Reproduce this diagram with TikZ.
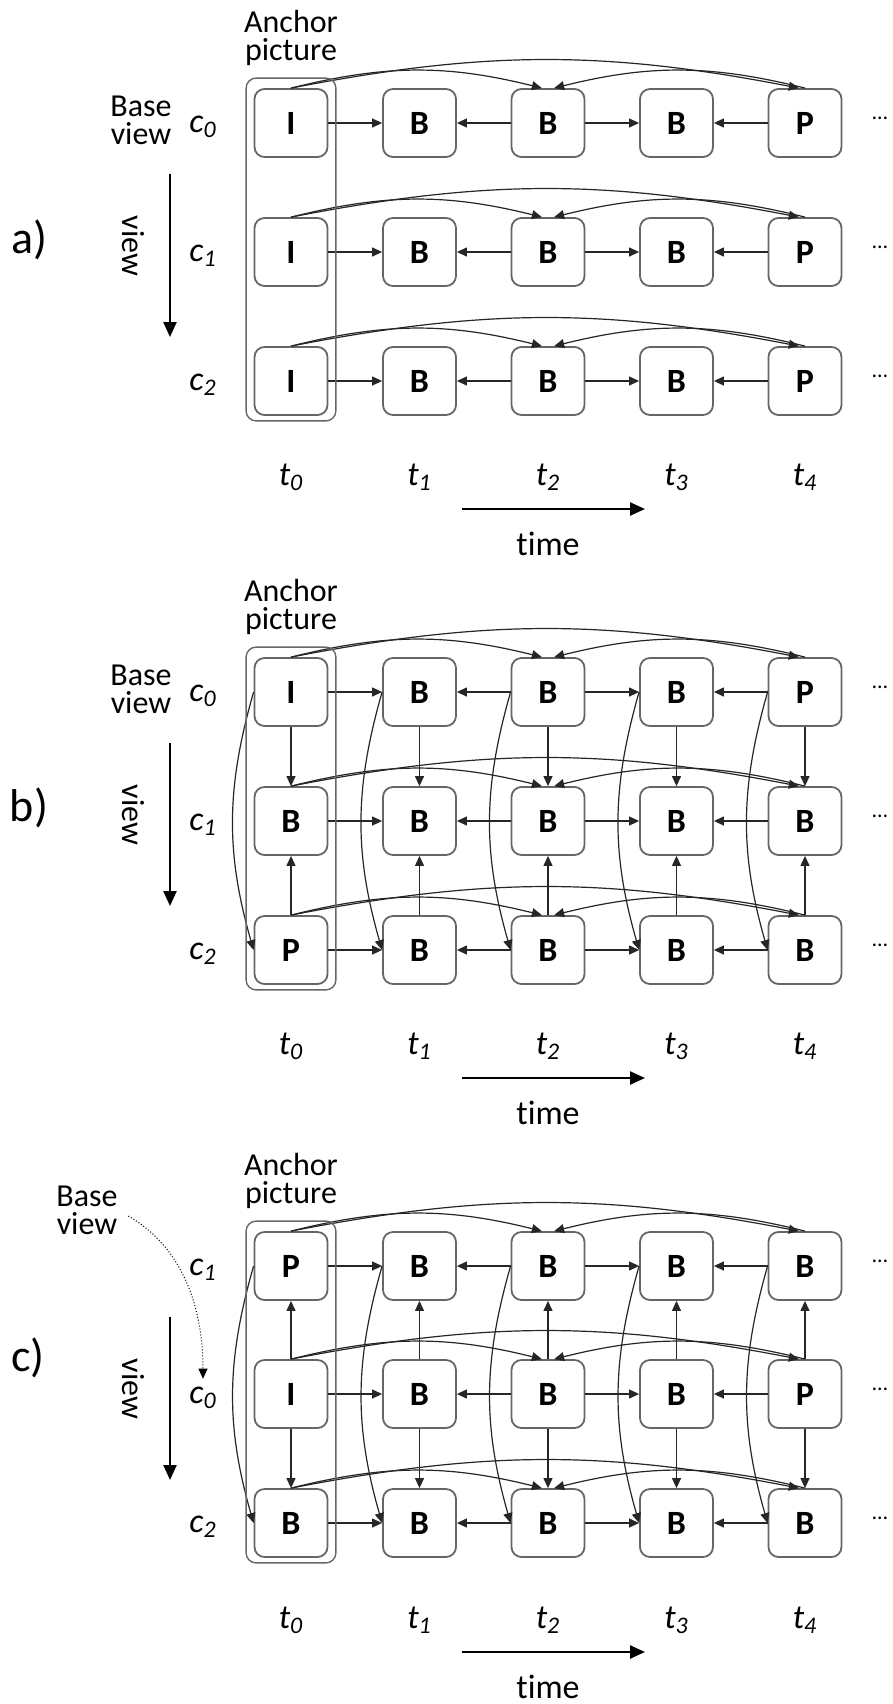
\documentclass[tikz,border=0pt]{standalone}
\usepackage{fontspec}
\setmainfont{Carlito}[Ligatures={TeX,NoCommon}]
\usetikzlibrary{positioning, arrows.meta, fit, calc}
\tikzset{
    frame/.style={rectangle, rounded corners=5pt, draw=black!60, line width=0.9pt, minimum width=36.5pt, minimum height=34pt, inner sep=0pt, font=\bfseries\fontsize{17}{17}\selectfont},
    anchorbox/.style={rectangle, rounded corners=5pt, draw=black!60, line width=0.7pt, inner sep=3.75pt, yshift=1.25pt},
    pred/.style={-{Triangle[length=5pt, width=4.5pt]}, line width=0.6pt, black!85},
    axis/.style={-{Triangle[length=7.5pt, width=6.5pt]}, line width=1.2pt},
    note/.style={align=center, inner sep=0pt, font=\fontsize{16}{14}\selectfont},
    camlab/.style={inner sep=0pt, font=\itshape\fontsize{17}{17}\selectfont},
    panel/.style={inner sep=0pt, font=\fontsize{23}{23}\selectfont},
    more/.style={inner sep=0pt, font=\fontsize{11}{11}\selectfont},
    baseref/.style={-{Triangle[length=5pt, width=4.5pt]}, line width=0.5pt, densely dotted}
}

\begin{document}
\begin{tikzpicture}[x=0.5pt, y=-0.5pt]
\useasboundingbox (0,0) rectangle (893,1704);

% rows of pictures: panel / row / height / view index / picture types
\foreach \p/\rw/\y/\cam/\kinds in {
        a/0/123/0/{I,B,B,B,P}, a/1/252/1/{I,B,B,B,P}, a/2/381/2/{I,B,B,B,P},
        b/0/692/0/{I,B,B,B,P}, b/1/821/1/{B,B,B,B,B}, b/2/950/2/{P,B,B,B,B},
        c/0/1266/1/{P,B,B,B,B}, c/1/1394/0/{I,B,B,B,P}, c/2/1523/2/{B,B,B,B,B}} {
    \node[camlab] (\p\rw-cam) at (203,\y+4) {c\textsubscript{\cam}};
    \foreach \kind [count=\col from 0] in \kinds
        \node[frame] (\p\rw\col) at (291+128.5*\col,\y) {\kind};
    \node[more] (\p\rw-more) at (880,\y-5) {\dots};
    % temporal prediction inside the row
    \draw[pred] (\p\rw0) -- (\p\rw1);
    \draw[pred] (\p\rw2) -- (\p\rw1);
    \draw[pred] (\p\rw2) -- (\p\rw3);
    \draw[pred] (\p\rw4) -- (\p\rw3);
    \draw[pred] (\p\rw0.north) to[bend left=14] (\p\rw2.100);
    \draw[pred] (\p\rw0.north) to[bend left=11] (\p\rw4.100);
    \draw[pred] (\p\rw4.north) to[bend right=14] (\p\rw2.80);
}

% inter-view prediction, panel b
\foreach \col in {0,...,4} {
    \draw[pred] (b0\col) -- (b1\col);
    \draw[pred] (b2\col) -- (b1\col);
    \draw[pred] (b0\col.west) to[bend right=16] (b2\col.west);
}
% inter-view prediction, panel c (base view in the middle)
\foreach \col in {0,...,4} {
    \draw[pred] (c1\col) -- (c0\col);
    \draw[pred] (c1\col) -- (c2\col);
    \draw[pred] (c0\col.west) to[bend right=16] (c2\col.west);
}

% anchor pictures, axes and labels
\foreach \p/\y in {a/123, b/692, c/1266} {
    \node[anchorbox, fit=(\p00)(\p20)] (\p-anchor) {};
    \node[note] (\p-anchortext) at (291,\y-85) {Anchor\\picture};
    \coordinate (\p-v1) at (170,\y+51);
    \coordinate (\p-v2) at (170,\y+214);
    \draw[axis] (\p-v1) -- (\p-v2);
    \node[note, rotate=-90] (\p-view) at (133,\y+123) {view};
    \foreach \col in {0,...,4}
        \node[camlab] (\p-t\col) at (291+128.5*\col,\y+354) {t\textsubscript{\col}};
    \coordinate (\p-s1) at (462,\y+386);
    \coordinate (\p-s2) at (645,\y+386);
    \draw[axis] (\p-s1) -- (\p-s2);
    \node[note, font=\fontsize{17}{17}\selectfont] (\p-time) at (548,\y+421) {time};
}

\node[panel] (a-lab) at (29,240) {a)};
\node[panel] (b-lab) at (29,808) {b)};
\node[panel] (c-lab) at (28,1358) {c)};

\node[note] (a-base) at (141,120) {Base\\view};
\node[note] (b-base) at (141,689) {Base\\view};
\node[note] (c-base) at (87,1210) {Base\\view};
\draw[baseref, shorten <=6pt, shorten >=4pt] (c-base.east) to[out=-30, in=90] (c1-cam.north);

\end{tikzpicture}
\end{document}
